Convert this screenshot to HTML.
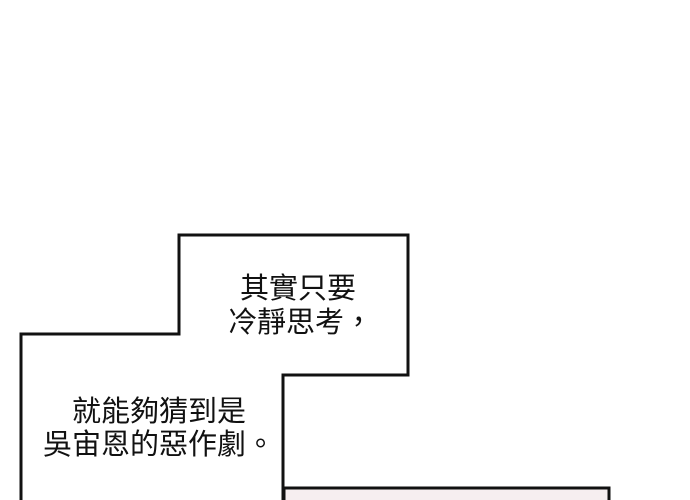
<!DOCTYPE html>
<html><head><meta charset="utf-8"><style>
html,body{margin:0;padding:0;background:#fff;}
svg{display:block}
text{font-family:"Liberation Sans","Noto Sans CJK TC",sans-serif;font-size:29px;fill:#111;}
</style></head><body>
<svg width="690" height="500" viewBox="0 0 690 500" xmlns="http://www.w3.org/2000/svg">
<rect width="690" height="500" fill="#fff"/>
<rect x="284" y="488" width="325" height="14" fill="#f6eef0" stroke="#111" stroke-width="3"/>
<polygon points="21,502 21,334 179,334 179,235 408,235 408,375 283,375 283,502" fill="#fff" stroke="#111" stroke-width="3"/>
<text x="240" y="298" textLength="116">其實只要</text>
<text x="228" y="332">冷靜思考，</text>
<text x="72" y="421" textLength="174">就能夠猜到是</text>
<text x="43" y="454">吳宙恩的惡作劇。</text>
</svg>
</body></html>
